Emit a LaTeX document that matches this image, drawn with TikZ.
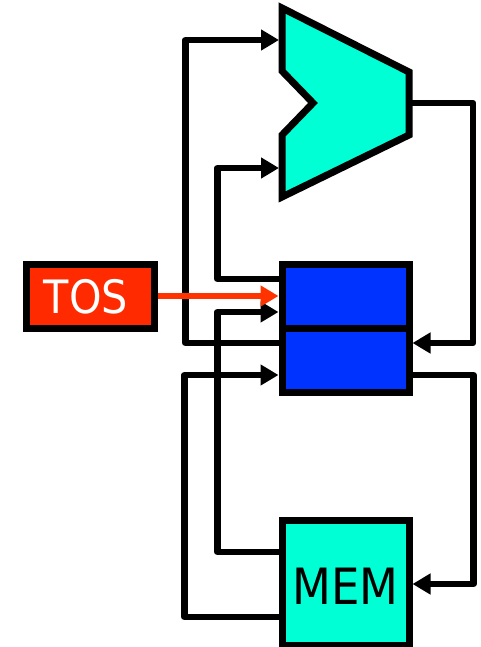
\documentclass[tikz,border=0pt]{standalone}
\usepackage{fontspec}
\newfontfamily\lblfont{DejaVu Sans Condensed}
\usetikzlibrary{arrows.meta}
\definecolor{alucyan}{HTML}{00FFD5}
\definecolor{regblue}{HTML}{0033FF}
\definecolor{tosred}{HTML}{FF2A00}
\definecolor{arrred}{HTML}{FF3300}
\tikzset{
  conn/.style={line width=6.5pt, line join=round, draw=black},
  arr/.style={conn, -{Triangle[length=18pt,width=20pt]}},
  redarr/.style={line width=6.5pt, draw=arrred, -{Triangle[length=18pt,width=20pt]}},
  box/.style={draw=black, line width=7pt, rectangle, inner sep=0pt, outer sep=3.5pt},
  reg/.style={box, fill=regblue, minimum width=127pt, minimum height=64pt},
  membox/.style={box, fill=alucyan, minimum width=127pt, minimum height=125pt},
}
\begin{document}
\begin{tikzpicture}[x=1pt,y=-1pt]
\useasboundingbox (0,0) rectangle (481,647);
% ALU
\draw[line width=7pt, line join=miter, fill=alucyan]
  (282,8) -- (409,72) -- (409,135) -- (282,197) -- (282,135) -- (313,103) -- (282,71) -- cycle;
\coordinate (aluin1) at (279,40);
\coordinate (aluin2) at (279,168);
\coordinate (aluout) at (412,103);
% registers and memory
\node[reg] (reg1) at (345.5,296) {};
\node[reg] (reg2) at (345.5,360) {};
\node[membox] (mem) at (345.5,582.5) {};
\node[box, fill=tosred, minimum width=128pt, minimum height=64pt] (tos) at (90,296) {};
% connectors
\draw[arr] ([yshift=17pt]reg2.west) -- ++(-93,0) |- (aluin1);
\draw[arr] ([yshift=17pt]reg1.west) -- ++(-61,0) |- (aluin2);
\draw[arr] (aluout) -- ++(61,0) |- ([yshift=17pt]reg2.east);
\draw[arr] ([yshift=30.5pt]mem.west) -- ++(-61,0) |- ([yshift=-16pt]reg1.west);
\draw[arr] ([yshift=-34.5pt]mem.west) -- ++(-94,0) |- ([yshift=-15pt]reg2.west);
\draw[arr] ([yshift=-15pt]reg2.east) -- ++(61,0) |- ([yshift=-1.5pt]mem.east);
% redraw box borders on top
\node[reg] at (reg1) {};
\node[reg] at (reg2) {};
\node[membox] at (mem) {};
% TOS arrow
\draw[redarr] (tos.east) -- (reg1.west);
% texts
\node[font=\lblfont\fontsize{46}{46}\selectfont, text=white, inner sep=0pt] (tostext) at ([shift={(-4pt,-1pt)}]tos.center) {TOS};
\node[font=\lblfont\fontsize{50}{50}\selectfont, text=black, inner sep=0pt] (memtext) at ([shift={(0pt,-4pt)}]mem.center) {MEM};
\end{tikzpicture}
\end{document}
